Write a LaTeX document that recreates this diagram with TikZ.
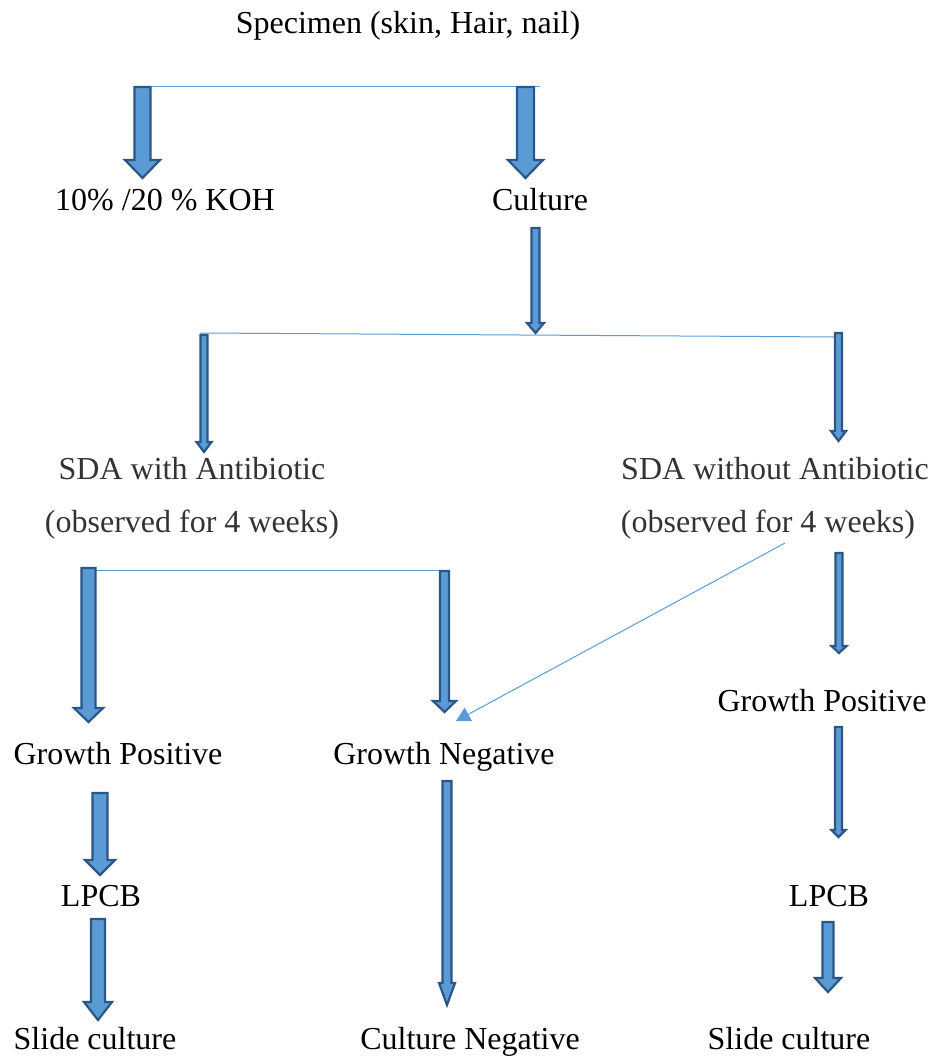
\documentclass[tikz,border=0pt]{standalone}
\usepackage{fontspec}
\setmainfont{Liberation Serif}
\usetikzlibrary{arrows.meta}

\definecolor{arrowfill}{HTML}{5B9BD5}
\definecolor{arrowline}{HTML}{2B5686}
\definecolor{softtext}{HTML}{333333}

\tikzset{
	label/.style={anchor=base, inner sep=0pt, font=\rmfamily\fontsize{32}{38}\selectfont},
	graylabel/.style={label, text=softtext},
	blockarrow/.style={fill=arrowfill, draw=arrowline, line width=2.2pt, line join=miter},
	joinline/.style={draw=arrowfill, line width=1pt},
}

% block arrow: x, top, tip, shaft half width, head half width, head length
\newcommand{\fatarrow}[6]{%
	\draw[blockarrow] (#1-#4, #2) -- (#1+#4, #2) -- (#1+#4, #3-#6) -- (#1+#5, #3-#6)
		-- (#1, #3) -- (#1-#5, #3-#6) -- (#1-#4, #3-#6) -- cycle;}

\begin{document}
\begin{tikzpicture}[x=1pt, y=-1pt]
	\useasboundingbox (0,0) rectangle (938,1059);

	\node[label] (specimen) at (408, 34)	{Specimen (skin, Hair, nail)};

	\node[label] (koh) at (165, 211)	{10\% /20 \% KOH};
	\node[label] (culture) at (540, 211)	{Culture};

	\node[graylabel] (sdaA) at (192, 479)	{SDA with Antibiotic};
	\node[graylabel] (sdaAobs) at (192, 532)	{(observed for 4 weeks)};
	\node[graylabel] (sdaB) at (775, 479)	{SDA without Antibiotic};
	\node[graylabel] (sdaBobs) at (768, 532)	{(observed for 4 weeks)};

	\node[label] (gposA) at (118, 764)	{Growth Positive};
	\node[label] (gneg) at (444, 764)	{Growth Negative};
	\node[label] (gposB) at (822, 711)	{Growth Positive};

	\node[label] (lpcbA) at (101, 906)	{LPCB};
	\node[label] (lpcbB) at (829, 906)	{LPCB};

	\node[label] (slideA) at (95, 1049)	{Slide culture};
	\node[label] (cneg) at (470, 1049)	{Culture Negative};
	\node[label] (slideB) at (789, 1049)	{Slide culture};

	% branch lines
	\draw[joinline] (135, 87) -- (540, 87);
	\draw[joinline] (200, 333) -- (840, 337);
	\draw[joinline] (95, 570) -- (440, 570);

	% specimen
	\fatarrow{142.5}{87}{178}{8}{17.5}{18}
	\fatarrow{525.5}{87}{178}{8.5}{17.5}{18}

	% culture
	\fatarrow{535.5}{228}{333}{4}{8.5}{10}
	\fatarrow{204}{335}{452}{3.5}{7.5}{10}
	\fatarrow{838.5}{333}{441}{3.5}{7.5}{10}

	% with antibiotic
	\fatarrow{88.5}{568}{722}{7}{14.5}{14}
	\fatarrow{444.5}{571}{712}{4.5}{11.5}{11}
	\fatarrow{100}{793}{875}{7.5}{15}{15}
	\fatarrow{98}{919}{1020}{7}{14}{18}
	\fatarrow{447}{781}{1005}{4.5}{8}{22}

	% without antibiotic
	\fatarrow{839}{553}{653}{3.5}{7.5}{7}
	\fatarrow{838.5}{727}{837}{3.5}{7}{7}
	\fatarrow{828}{922}{992}{5.5}{13}{14}

	\coordinate (diagS) at (785, 543);
	\coordinate (diagE) at (456, 721);
	\draw[arrowfill, line width=1pt, -{Triangle[length=14pt, width=15pt]}] (diagS) -- (diagE);
\end{tikzpicture}
\end{document}
